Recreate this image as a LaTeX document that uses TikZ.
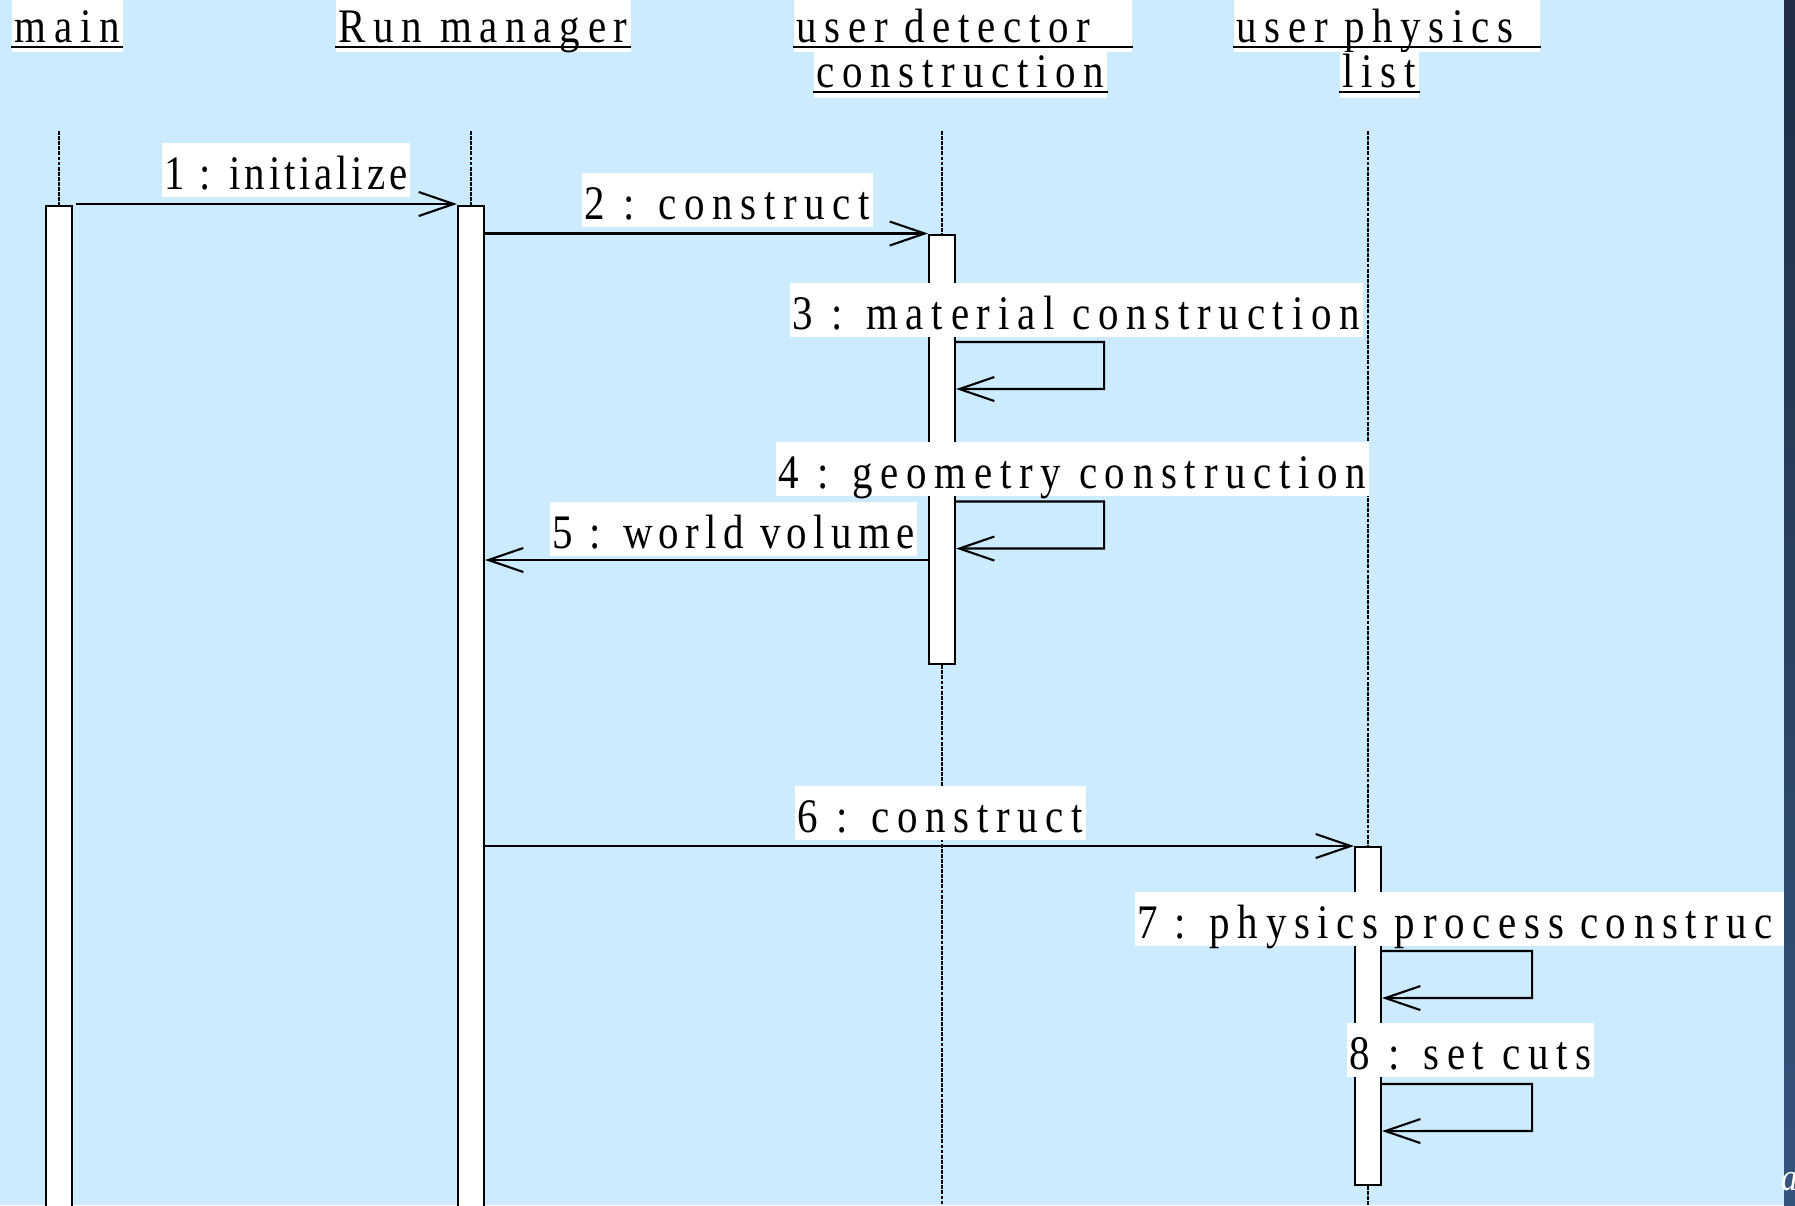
\documentclass[tikz,border=0pt]{standalone}
\usepackage{fontspec}
\setmainfont{Liberation Serif}[FakeStretch=0.85,LetterSpace=16]
\usepackage{tikz}
\usetikzlibrary{arrows.meta}
\definecolor{skyback}{RGB}{204,235,255}
\definecolor{edgetop}{RGB}{31,45,69}
\definecolor{edgebot}{RGB}{53,84,125}

\begin{document}
\begin{tikzpicture}[x=0.01cm,y=-0.01cm,
  font=\fontsize{13.7}{16}\selectfont,
  bar/.style={draw,fill=white,line width=0.6pt,minimum width=0.26cm,inner sep=0},
  life/.style={line width=0.4pt,dash pattern=on 1.1pt off 0.35pt},
  msg/.style={line width=0.6pt,-{Straight Barb[length=0.35cm,width=0.24cm]}},
  head/.style={fill=white,inner xsep=0.03cm,inner ysep=0.02cm,text height=0.40cm,text depth=0.08cm,anchor=base west},
  headb/.style={head,text height=0.33cm,text depth=0.09cm},
  uline/.style={line width=0.6pt},
  lbl/.style={fill=white,inner xsep=0.03cm,inner ysep=0.02cm,text height=0.44cm,text depth=0.06cm,anchor=base west}]
\useasboundingbox (0,0) rectangle (1795,1205);
\clip (0,0) rectangle (1795,1205);
\fill[skyback] (0,0) rectangle (1795,1205);

\node[head] (hMain) at (11,42) {main};
\node[head] (hRun) at (335,42) {Run manager};
\node[head,text width=3.32cm,align=left] (hDet) at (793,42) {user detector};
\node[headb] (hDetB) at (813,87) {construction};
\node[head,text width=3.0cm,align=left] (hPhys) at (1233,42) {user physics};
\node[headb] (hPhysB) at (1339,87) {list};
\foreach \n in {hMain,hRun,hDet,hDetB,hPhys,hPhysB}
  \draw[uline] ([yshift=-0.05cm]\n.base west) -- ([yshift=-0.05cm]\n.base east);

\coordinate (mainTop) at (59,131);
\coordinate (runTop) at (471,131);
\coordinate (detTop) at (942,131);
\coordinate (physTop) at (1368,131);
\node[bar,minimum height=10.09cm] (mainBar) at (59,710.5) {};
\node[bar,minimum height=10.09cm] (runBar) at (471,710.5) {};
\node[bar,minimum height=4.29cm] (detBar) at (942,449.5) {};
\node[bar,minimum height=3.38cm] (physBar) at (1368,1016) {};
\draw[life] (mainTop) -- (mainBar.north);
\draw[life] (runTop) -- (runBar.north);
\draw[life] (detTop) -- (detBar.north);
\draw[life] (detBar.south) -- (942,1215);
\draw[life] (physTop) -- (physBar.north);
\draw[life] (physBar.south) -- (1368,1215);

\coordinate (m1) at (0,204);
\coordinate (m2) at (0,233.5);
\coordinate (m3) at (0,342);
\coordinate (m4) at (0,501.5);
\coordinate (m5) at (0,560);
\coordinate (m6) at (0,846);
\coordinate (m7) at (0,951);
\coordinate (m8) at (0,1084);

\draw[msg] ([xshift=0.03cm]mainBar.east |- m1) -- (runBar.west |- m1);
\draw[msg] (runBar.east |- m2) -- (detBar.west |- m2);
\draw[msg] (detBar.east |- m3) -- ++(148,0) -- ++(0,47) -- ([yshift=-0.47cm]detBar.east |- m3);
\draw[msg] (detBar.east |- m4) -- ++(148,0) -- ++(0,47) -- ([yshift=-0.47cm]detBar.east |- m4);
\draw[msg] (detBar.west |- m5) -- (runBar.east |- m5);
\draw[msg] (runBar.east |- m6) -- (physBar.west |- m6);
\draw[msg] (physBar.east |- m7) -- ++(150,0) -- ++(0,47) -- ([yshift=-0.47cm]physBar.east |- m7);
\draw[msg] (physBar.east |- m8) -- ++(150,0) -- ++(0,47) -- ([yshift=-0.47cm]physBar.east |- m8);

\node[lbl,font=\fontsize{13.7}{16}\selectfont\addfontfeature{LetterSpace=8}] (l1) at (161,189) {1 : initialize};
\node[lbl] (l2) at (581,219) {2 : construct};
\node[lbl] (l3) at (789,329) {3 : material construction};
\node[lbl] (l4) at (775,488) {4 : geometry construction};
\node[lbl,font=\fontsize{13.7}{16}\selectfont\addfontfeature{LetterSpace=13}] (l5) at (549,548) {5 : world volume};
\node[lbl] (l6) at (794,832) {6 : construct};
\node[lbl,text width=6.44cm,align=left] (l7) at (1134,938) {7 : physics process construc};
\node[lbl] (l8) at (1346,1069) {8 : set cuts};

\shade[top color=edgetop,bottom color=edgebot] (1784,0) rectangle (1795,1205);
\node[anchor=base west,inner sep=0,text=white,font=\fontsize{11}{13}\selectfont\itshape] (cutA) at (1781,1190) {a};
\end{tikzpicture}
\end{document}
